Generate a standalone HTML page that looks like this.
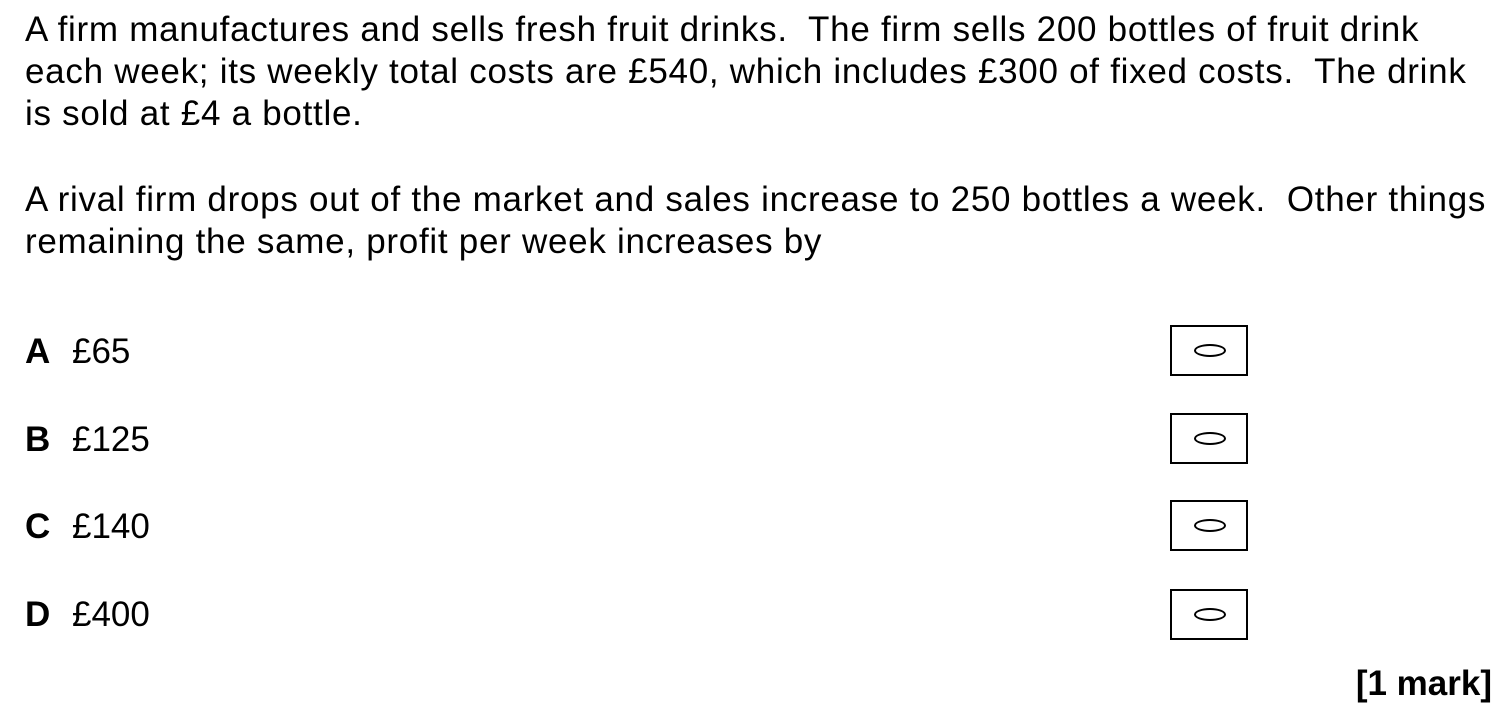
<!DOCTYPE html>
<html><head><meta charset="utf-8"><style>
body{margin:0;width:1504px;height:714px;background:#fff;position:relative;font-family:"Liberation Sans",Arial,sans-serif;color:#000;overflow:hidden}
.t{position:absolute;left:25px;font-size:35px;letter-spacing:0.72px;white-space:pre;line-height:42px}
.opt{position:absolute;left:25px;font-size:35px;white-space:pre;line-height:42px}
.opt b{display:inline-block;width:47px}
.box{position:absolute;left:1170px;width:74px;height:47px;border:2px solid #000}
.box i{position:absolute;left:22px;top:17px;width:28px;height:9px;border:2px solid #000;border-radius:50%}
</style></head><body>
<div class="t" style="top:9px">A firm manufactures and sells fresh fruit drinks.  The firm sells 200 bottles of fruit drink</div>
<div class="t" style="top:51px">each week; its weekly total costs are £540, which includes £300 of fixed costs.  The drink</div>
<div class="t" style="top:93px">is sold at £4 a bottle.</div>
<div class="t" style="top:179px">A rival firm drops out of the market and sales increase to 250 bottles a week.  Other things</div>
<div class="t" style="top:221px">remaining the same, profit per week increases by</div>

<div class="opt" style="top:331px"><b>A</b>£65</div>
<div class="opt" style="top:419px"><b>B</b>£125</div>
<div class="opt" style="top:506px"><b>C</b>£140</div>
<div class="opt" style="top:594px"><b>D</b>£400</div>

<div class="box" style="top:325px"><i></i></div>
<div class="box" style="top:413px"><i></i></div>
<div class="box" style="top:500px"><i></i></div>
<div class="box" style="top:589px"><i></i></div>

<div style="position:absolute;right:12px;top:663px;font-size:35px;font-weight:bold;line-height:42px">[1 mark]</div>
</body></html>
